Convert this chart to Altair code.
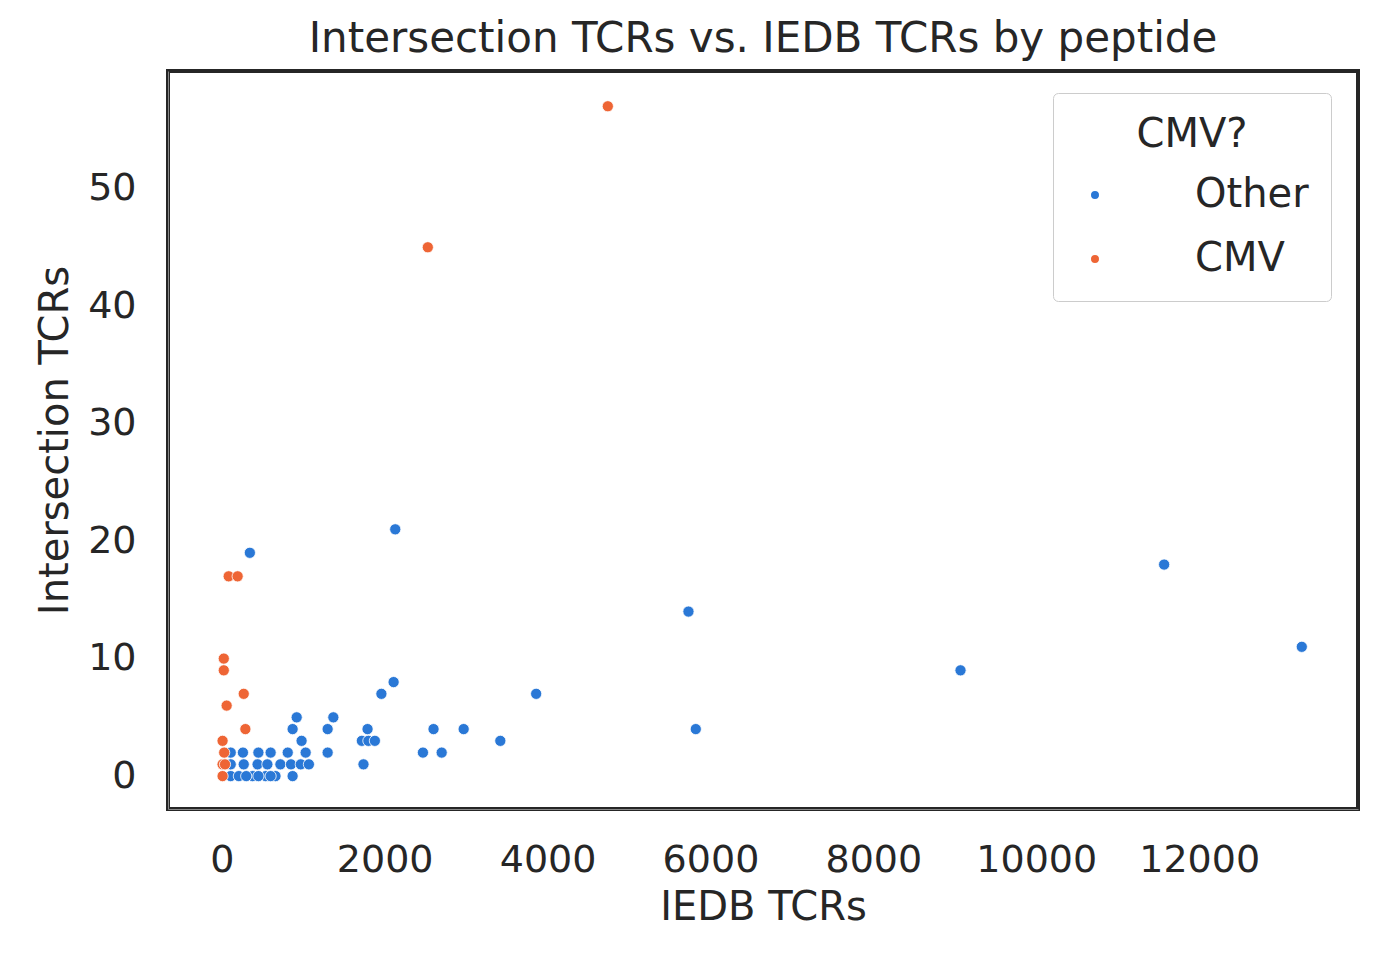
import altair as alt
import pandas as pd

# IEDB TCRs, intersection TCRs, group
other_x = [110, 210, 380, 540, 660, 870, 300, 450, 600,
           110, 270, 440, 560, 720, 850, 970, 1070, 1740,
           110, 260, 450, 600, 810, 1030, 1300, 2470, 2700,
           980, 1720, 1800, 1880, 3420,
           870, 1300, 1790, 2600, 2970,
           920, 1370, 1960, 3860, 2110,
           345, 2130, 5730, 5820, 9070, 11570, 13260]
other_y = [0, 0, 0, 0, 0, 0, 0, 0, 0,
           1, 1, 1, 1, 1, 1, 1, 1, 1,
           2, 2, 2, 2, 2, 2, 2, 2, 2,
           3, 3, 3, 3, 3,
           4, 4, 4, 4, 4,
           5, 5, 7, 7, 8,
           19, 21, 14, 4, 9, 18, 11]
cmv_x = [10, 10, 30, 10, 60, 270, 290, 85, 195, 25, 25, 2530, 4740, 40]
cmv_y = [0, 1, 2, 3, 6, 7, 4, 17, 17, 10, 9, 45, 57, 1]

df = pd.DataFrame({
    "IEDB TCRs": other_x + cmv_x,
    "Intersection TCRs": other_y + cmv_y,
    "CMV?": ["Other"] * len(other_x) + ["CMV"] * len(cmv_x),
})

font = "DejaVu Sans"
chart = alt.Chart(df).mark_circle(size=125, opacity=1, stroke="white", strokeWidth=0.8).encode(
    x=alt.X("IEDB TCRs:Q", scale=alt.Scale(domain=[-660, 13950], nice=False, zero=False),
            axis=alt.Axis(values=list(range(0, 13000, 2000)), format="d", grid=False,
                          ticks=False, labelFontSize=38, titleFontSize=40, labelPadding=32,
                          titlePadding=8, titleFontWeight="normal",
                          labelColor="#262626", titleColor="#262626")),
    y=alt.Y("Intersection TCRs:Q", scale=alt.Scale(domain=[-2.8, 60], nice=False, zero=False),
            axis=alt.Axis(values=[0, 10, 20, 30, 40, 50], grid=False, ticks=False,
                          labelFontSize=38, titleFontSize=40, labelPadding=32, titlePadding=12,
                          titleFontWeight="normal", labelColor="#262626", titleColor="#262626")),
    color=alt.Color("CMV?:N", scale=alt.Scale(domain=["Other", "CMV"], range=["#2a78d6", "#ee6535"]),
                    legend=alt.Legend(orient="none", legendX=885, legendY=22, labelFontSize=40,
                                      titleFontSize=40, titleFontWeight="normal", symbolSize=90,
                                      labelOffset=80, rowPadding=24, padding=22, titlePadding=20,
                                      titleAnchor="middle", strokeColor="#cccccc", fillColor="white",
                                      cornerRadius=5, labelColor="#262626", titleColor="#262626")),
).properties(
    width=1190, height=738,
    padding={"left": 27, "top": 10, "right": 5, "bottom": 5},
    title=alt.Title("Intersection TCRs vs. IEDB TCRs by peptide", fontSize=42,
                    fontWeight="normal", color="#262626", offset=10),
).configure(font=font).configure_view(stroke="#262626", strokeWidth=4)

chart.save("out.html", embed_options={"renderer": "svg", "actions": False})
